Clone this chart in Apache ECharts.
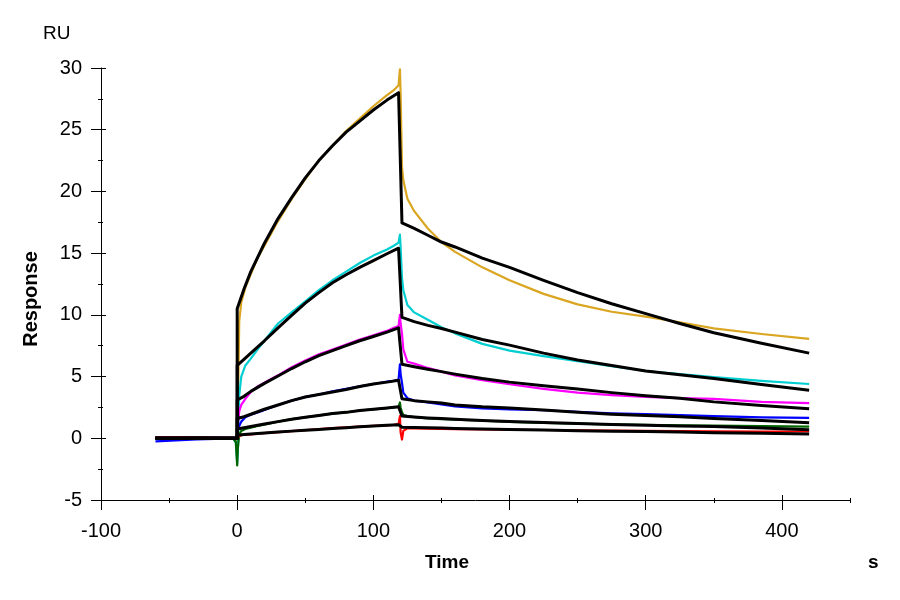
<!DOCTYPE html>
<html>
<head>
<meta charset="utf-8">
<title>Response</title>
<script src="https://cdn.jsdelivr.net/npm/echarts@6/dist/echarts.min.js"></script>
<style>
html,body{margin:0;padding:0;background:#fff;}
#chart{width:900px;height:600px;}
</style>
</head>
<body>
<div id="chart"></div>
<script>
// measured curves (time in s)
var dataTime = [-60, -30, -3, -1, 0, 0.5, 1.5, 3, 6, 10, 15, 20, 30, 40, 50, 60, 70, 80, 90, 100, 110, 115, 118.5, 119.5, 120, 121, 122, 125, 130, 140, 150, 160, 180, 200, 225, 250, 275, 300, 325, 350, 385, 420];
var orangeData  = [0.1, 0.05, 0, -0.1, -0.6, 2, 9.5, 11, 12.2, 13.3, 14.6, 15.6, 17.6, 19.4, 21.0, 22.5, 23.7, 24.9, 25.9, 26.9, 27.8, 28.2, 28.6, 29.9, 28, 22, 20.9, 19.4, 18.4, 17.0, 15.9, 15.1, 13.85, 12.8, 11.7, 10.85, 10.25, 9.85, 9.4, 8.9, 8.45, 8.05];
var cyanData    = [0.1, 0.1, 0, -0.3, -2.0, -1, 3.5, 5.0, 5.9, 6.45, 7.2, 7.9, 9.3, 10.2, 11.1, 12.0, 12.8, 13.5, 14.2, 14.8, 15.3, 15.6, 15.85, 16.5, 15.5, 13, 12.0, 10.8, 10.2, 9.6, 9.0, 8.5, 7.65, 7.1, 6.65, 6.25, 5.85, 5.45, 5.2, 4.95, 4.65, 4.4];
var magentaData = [0.1, 0.1, 0.05, 0, 0.3, 1, 2.2, 2.7, 3.2, 3.75, 4.2, 4.5, 5.1, 5.75, 6.3, 6.8, 7.2, 7.6, 8.0, 8.35, 8.7, 8.95, 9.1, 10.0, 9.3, 8.5, 7.2, 6.2, 6.05, 5.7, 5.4, 5.1, 4.7, 4.38, 4.0, 3.7, 3.5, 3.35, 3.25, 3.2, 2.95, 2.85];
var blueData    = [-0.25, -0.1, 0, 0, 0.2, 0.7, 1.0, 1.35, 1.7, 1.9, 2.1, 2.3, 2.7, 3.05, 3.35, 3.55, 3.8, 4.0, 4.2, 4.4, 4.6, 4.65, 4.75, 6.0, 5.2, 4.5, 3.7, 3.25, 3.05, 2.9, 2.75, 2.58, 2.42, 2.35, 2.27, 2.15, 2.03, 1.95, 1.87, 1.8, 1.7, 1.65];
var greenData   = [0, 0.05, 0, -0.3, -2.2, -0.8, 0.3, 0.6, 0.75, 0.85, 1.0, 1.1, 1.35, 1.55, 1.7, 1.85, 2.0, 2.1, 2.25, 2.35, 2.45, 2.5, 2.55, 2.9, 2.5, 2.1, 1.9, 1.8, 1.72, 1.62, 1.55, 1.5, 1.42, 1.32, 1.25, 1.18, 1.12, 1.08, 1.05, 1.02, 0.98, 0.95];
var redData     = [0.05, 0.05, 0, 0, 0, 0.1, 0.2, 0.25, 0.3, 0.32, 0.38, 0.42, 0.5, 0.58, 0.66, 0.74, 0.82, 0.88, 0.95, 1.0, 1.05, 1.08, 1.15, 1.8, 0.5, -0.1, 0.6, 0.8, 0.8, 0.78, 0.76, 0.74, 0.72, 0.7, 0.67, 0.65, 0.62, 0.6, 0.58, 0.56, 0.55, 0.55];

// fitted curves
var fitTime = [-60, 0, 0, 5, 10, 20, 30, 40, 50, 60, 70, 80, 90, 100, 110, 118.5, 121, 130, 140, 150, 160, 180, 200, 225, 250, 275, 300, 325, 350, 385, 420];
var orangeFit  = [0, 0, 10.5, 12.1, 13.5, 15.8, 17.8, 19.5, 21.1, 22.5, 23.7, 24.8, 25.7, 26.6, 27.4, 28.0, 17.45, 17.0, 16.45, 15.9, 15.5, 14.6, 13.85, 12.8, 11.8, 10.9, 10.1, 9.3, 8.55, 7.7, 6.9];
var cyanFit    = [0, 0, 5.9, 6.4, 6.9, 7.9, 8.95, 9.95, 10.95, 11.8, 12.6, 13.25, 13.85, 14.4, 14.95, 15.4, 9.8, 9.45, 9.15, 8.9, 8.6, 8.0, 7.55, 6.9, 6.35, 5.9, 5.45, 5.15, 4.85, 4.35, 3.9];
var magentaFit = [0, 0, 3.1, 3.4, 3.8, 4.45, 5.05, 5.65, 6.2, 6.7, 7.1, 7.5, 7.9, 8.25, 8.6, 8.95, 6.0, 5.8, 5.6, 5.4, 5.2, 4.85, 4.55, 4.25, 4.0, 3.7, 3.45, 3.25, 2.95, 2.65, 2.4];
var blueFit    = [0, 0, 1.6, 1.75, 1.95, 2.35, 2.7, 3.05, 3.35, 3.55, 3.75, 3.95, 4.2, 4.4, 4.55, 4.7, 3.2, 3.05, 2.95, 2.85, 2.7, 2.55, 2.45, 2.3, 2.1, 1.95, 1.85, 1.75, 1.6, 1.45, 1.25];
var greenFit   = [0, 0, 0.75, 0.85, 0.95, 1.15, 1.35, 1.55, 1.7, 1.85, 2.0, 2.1, 2.25, 2.35, 2.45, 2.55, 1.8, 1.72, 1.65, 1.6, 1.55, 1.45, 1.35, 1.28, 1.2, 1.12, 1.05, 1.0, 0.95, 0.83, 0.7];
var redFit     = [0, 0, 0.25, 0.3, 0.35, 0.43, 0.5, 0.58, 0.65, 0.72, 0.8, 0.86, 0.93, 1.0, 1.05, 1.1, 0.9, 0.88, 0.85, 0.83, 0.8, 0.75, 0.72, 0.68, 0.62, 0.58, 0.55, 0.5, 0.45, 0.4, 0.35];

var xTicks = [-100, 0, 100, 200, 300, 400];
var xMinorTicks = [-50, 50, 150, 250, 350, 450];
var yTicks = [-5, 0, 5, 10, 15, 20, 25, 30];
var yMinorTicks = [-2.5, 2.5, 7.5, 12.5, 17.5, 22.5, 27.5];

var FONT = '"Liberation Sans", Arial, sans-serif';

var sensorChartObj = {
    myChart : echarts.init(document.getElementById('chart')),
    option : null,
    init : function(){
        var that = this;
        that.render();
    },
    pairs : function(t, v){
        var arr = [];
        for (var i = 0; i < t.length; i++) {
            arr.push([t[i], v[i]]);
        }
        return arr;
    },
    line : function(t, v, color, width){
        var that = this;
        return {
            type : 'line',
            data : that.pairs(t, v),
            symbol : 'none',
            silent : true,
            lineStyle : { color : color, width : width, join : 'round' }
        };
    },
    xAxisOf : function(ticks, len, inside, main){
        return {
            type : 'value',
            position : 'bottom',
            min : -100,
            max : 450,
            interval : 100,
            axisLine : { show : main, onZero : false, lineStyle : { color : '#000', width : 1 } },
            axisTick : { show : true, inside : inside, length : len, customValues : ticks, lineStyle : { color : '#000', width : 1 } },
            axisLabel : {
                show : main,
                customValues : ticks,
                color : '#000',
                fontFamily : FONT,
                fontSize : 20,
                margin : 21,
                formatter : function(v){ return v === 450 ? '' : String(v); }
            },
            splitLine : { show : false }
        };
    },
    yAxisOf : function(ticks, len, inside, main){
        return {
            type : 'value',
            position : 'left',
            min : -5,
            max : 30,
            interval : 5,
            axisLine : { show : main, onZero : false, lineStyle : { color : '#000', width : 1 } },
            axisTick : { show : true, inside : inside, length : len, customValues : ticks, lineStyle : { color : '#000', width : 1 } },
            axisLabel : {
                show : main,
                customValues : ticks,
                color : '#000',
                fontFamily : FONT,
                fontSize : 20,
                margin : 19
            },
            splitLine : { show : false }
        };
    },
    render : function(){
        var that = this;
        that.option = {
            animation : false,
            backgroundColor : '#fff',
            grid : { left : 101, right : 50, top : 68, bottom : 100 },
            xAxis : [
                that.xAxisOf(xTicks, 10, false, true),
                that.xAxisOf(xMinorTicks, 3, false, false),
                that.xAxisOf(xTicks, 5, true, false),
                that.xAxisOf(xMinorTicks, 2, true, false)
            ],
            yAxis : [
                that.yAxisOf(yTicks, 10, false, true),
                that.yAxisOf(yMinorTicks, 3, false, false),
                that.yAxisOf(yTicks, 5, true, false),
                that.yAxisOf(yMinorTicks, 2, true, false)
            ],
            graphic : [
                { type : 'text', left : 43, top : 24, style : { text : 'RU', fill : '#000', font : '19px ' + FONT } },
                { type : 'text', x : 31, y : 299, rotation : Math.PI / 2,
                  style : { text : 'Response', fill : '#000', font : 'bold 20px ' + FONT, textAlign : 'center', textVerticalAlign : 'middle' } },
                { type : 'text', x : 447, y : 563, style : { text : 'Time', fill : '#000', font : 'bold 19px ' + FONT, textAlign : 'center', textVerticalAlign : 'middle' } },
                { type : 'text', x : 868, y : 563, style : { text : 's', fill : '#000', font : 'bold 19px ' + FONT, textAlign : 'left', textVerticalAlign : 'middle' } }
            ],
            series : [
                that.line(dataTime, orangeData, '#DAA520', 2.2),
                that.line(dataTime, cyanData, '#00CED1', 2.2),
                that.line(dataTime, magentaData, '#FF00FF', 2.2),
                that.line(dataTime, blueData, '#0000FF', 2.2),
                that.line(dataTime, greenData, '#006400', 2.2),
                that.line(dataTime, redData, '#FF0000', 2.2),
                that.line(fitTime, orangeFit, '#000', 3),
                that.line(fitTime, cyanFit, '#000', 3),
                that.line(fitTime, magentaFit, '#000', 3),
                that.line(fitTime, blueFit, '#000', 3),
                that.line(fitTime, greenFit, '#000', 3),
                that.line(fitTime, redFit, '#000', 3)
            ]
        };
        that.myChart.setOption(that.option);
    }
};
sensorChartObj.init();
</script>
</body>
</html>
